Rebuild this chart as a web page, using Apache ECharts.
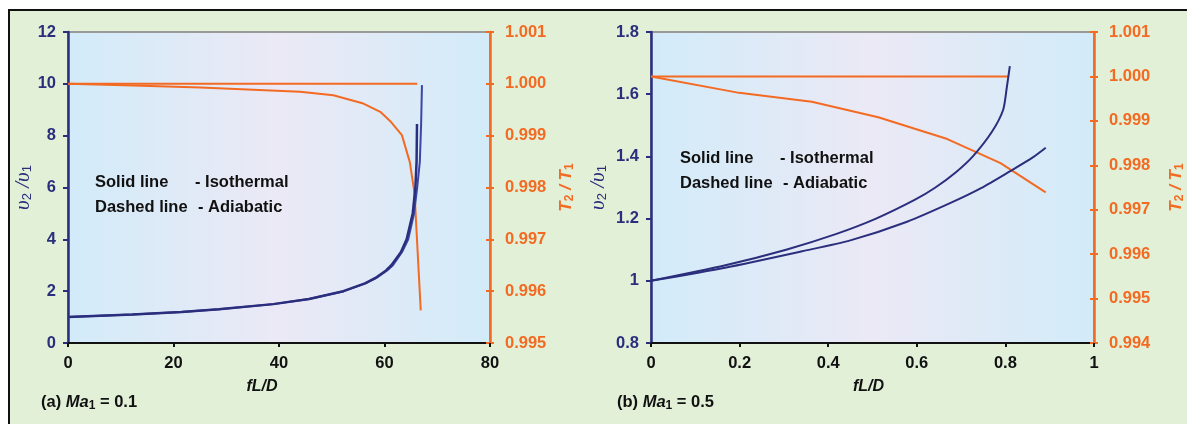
<!DOCTYPE html>
<html>
<head>
<meta charset="utf-8">
<script src="https://cdn.jsdelivr.net/npm/echarts@6/dist/echarts.min.js"></script>
<style>
  html, body { margin:0; padding:0; background:#ffffff; }
  #bg { position:absolute; left:8px; top:9px; width:1179px; height:415px; background:#e2f0d8; border-top:2px solid #111; border-left:2px solid #111; box-sizing:border-box; }
  #chart { position:absolute; left:0; top:0; width:1187px; height:424px; }
</style>
</head>
<body>
<div id="bg"></div>
<div id="chart"></div>
<script>
// ---- (a) Ma1 = 0.1 ----
const a_isoV_x  = [0, 12.2, 21.5, 28.6, 38.9, 45.7, 52.2, 56.3, 58.2, 60.3, 61.3, 63.1, 64.2, 65.35, 65.86, 66.08, 66.16];
const a_isoV_y  = [1, 1.1, 1.2, 1.3, 1.5, 1.7, 2, 2.3, 2.5, 2.8, 3, 3.5, 4, 5, 6, 7, 8.45];
const a_adiV_x  = [0, 12.2, 21.5, 28.6, 38.9, 45.7, 52.3, 56.4, 58.4, 60.5, 61.6, 63.3, 64.5, 65.6, 66.2, 66.7, 66.95, 67.1];
const a_adiV_y  = [1, 1.1, 1.2, 1.3, 1.5, 1.7, 2, 2.3, 2.5, 2.8, 3, 3.5, 4, 5, 6, 7, 8.5, 9.95];
const a_isoT_x  = [0, 66.2];
const a_isoT_y  = [1.0, 1.0];
const a_adiT_x  = [0, 12.4, 25.1, 44, 50.3, 56, 59.2, 61.1, 63.3, 64.8, 65.7, 66.87];
const a_adiT_y  = [1.0, 0.99997, 0.99993, 0.999845, 0.99978, 0.99962, 0.99946, 0.99928, 0.99901, 0.99849, 0.99788, 0.99563];
// ---- (b) Ma1 = 0.5 ----
const b_isoV_x  = [0, 0.168, 0.305, 0.417, 0.508, 0.595, 0.642, 0.689, 0.7265, 0.77, 0.795, 0.803, 0.81];
const b_isoV_y  = [1, 1.05, 1.1, 1.15, 1.2, 1.26, 1.3, 1.35, 1.4, 1.48, 1.55, 1.62, 1.69];
const b_adiV_x  = [0, 0.17, 0.341, 0.45, 0.578, 0.68, 0.745, 0.81, 0.861, 0.891];
const b_adiV_y  = [1, 1.043, 1.095, 1.13, 1.19, 1.253, 1.298, 1.352, 1.396, 1.428];
const b_isoT_x  = [0, 0.807];
const b_isoT_y  = [1.0, 1.0];
const b_adiT_x  = [0, 0.199, 0.363, 0.513, 0.669, 0.789, 0.891];
const b_adiT_y  = [1.0, 0.99963, 0.99943, 0.99908, 0.99859, 0.99805, 0.99739];

const NAVY = '#2b2e7c', ORANGE = '#f36a22', BLACK = '#111111';
const FONT = '"Liberation Sans", Arial, sans-serif';
const pairs = (xs, ys) => xs.map((x, i) => [x, ys[i]]);

const bgGrad = {type:'linear', x:0, y:0, x2:1, y2:0, colorStops:[
  {offset:0, color:'#d2ebf9'}, {offset:0.5, color:'#ebe9f5'}, {offset:1, color:'#d2ebf9'}]};

function xAx(gi, max, interval, padRight) {
  return {gridIndex:gi, type:'value', min:0, max:max, interval:interval,
    name:'fL/D', nameLocation:'middle', nameGap:36,
    nameTextStyle:{fontFamily:FONT, fontWeight:'bold', fontStyle:'italic', fontSize:16, color:BLACK, padding:[0,padRight,0,0]},
    axisLine:{show:true, onZero:false, lineStyle:{color:BLACK, width:2}},
    axisTick:{show:true, length:4, lineStyle:{color:BLACK, width:2}},
    axisLabel:{fontFamily:FONT, fontWeight:'bold', fontSize:16.5, color:BLACK, margin:12},
    splitLine:{show:false}};
}
function yLeft(gi, min, max, interval, gap) {
  return {gridIndex:gi, type:'value', position:'left', min:min, max:max, interval:interval,
    name:'{a|υ}{s|2}{a| /υ}{s|1}', nameLocation:'middle', nameGap:gap, nameRotate:90,
    nameTextStyle:{color:NAVY, rich:{
      a:{fontFamily:'"Liberation Serif", "DejaVu Serif", serif', fontStyle:'italic', fontSize:21, color:NAVY},
      s:{fontFamily:FONT, fontSize:13, color:NAVY, padding:[8,0,0,0]}}},
    axisLine:{show:true, onZero:false, lineStyle:{color:NAVY, width:2.5}},
    axisTick:{show:true, length:5, lineStyle:{color:NAVY, width:2}},
    axisLabel:{fontFamily:FONT, fontWeight:'bold', fontSize:16.5, color:NAVY, margin:12},
    splitLine:{show:false}};
}
function yRight(gi, min, max, gap) {
  return {gridIndex:gi, type:'value', position:'right', min:min, max:max, interval:0.001,
    name:'{a|T}{s|2}{a| / T}{s|1}', nameLocation:'middle', nameGap:gap, nameRotate:90,
    nameTextStyle:{color:ORANGE, rich:{
      a:{fontFamily:FONT, fontWeight:'bold', fontStyle:'italic', fontSize:17, color:ORANGE},
      s:{fontFamily:FONT, fontWeight:'bold', fontSize:12, color:ORANGE, padding:[7,0,0,0]}}},
    axisLine:{show:true, onZero:false, lineStyle:{color:ORANGE, width:2.5}},
    axisTick:{show:true, length:4, lineStyle:{color:ORANGE, width:2}},
    axisLabel:{fontFamily:FONT, fontWeight:'bold', fontSize:16.5, color:ORANGE, margin:15,
      formatter:v => v.toFixed(3)},
    splitLine:{show:false}};
}
function yRightInner(gi, min, max) {
  return {gridIndex:gi, type:'value', position:'right', min:min, max:max, interval:0.001,
    axisLine:{show:false, onZero:false}, axisLabel:{show:false}, splitLine:{show:false},
    axisTick:{show:true, inside:true, length:4, lineStyle:{color:ORANGE, width:2}}};
}
function line(name, xi, yi, data, color, w, smooth) {
  return {name:name, type:'line', xAxisIndex:xi, yAxisIndex:yi, data:data, showSymbol:false,
    symbol:'none', smooth:smooth || false,
    lineStyle:{color:color, width:w}, silent:true, animation:false, z:3};
}
function txt(x, y, parts) {
  return {type:'text', left:x, top:y, style:{text:parts, fontFamily:FONT, fontWeight:'bold', fontSize:16.5,
    fill:BLACK, rich:{
      b:{fontFamily:FONT, fontWeight:'bold', fontSize:16.5, fill:BLACK},
      i:{fontFamily:FONT, fontWeight:'bold', fontStyle:'italic', fontSize:16.5, fill:BLACK},
      s:{fontFamily:FONT, fontWeight:'bold', fontSize:12, fill:BLACK, padding:[6,0,0,0]}}}};
}

const chart = echarts.init(document.getElementById('chart'), null, {renderer:'canvas'});
chart.setOption({
  backgroundColor:'transparent',
  animation:false,
  grid:[
    {left:68, right:697, top:32, bottom:81, show:true, backgroundColor:bgGrad, borderColor:'#9a9a9a', borderWidth:2},
    {left:651, right:88, top:32, bottom:81, show:true, backgroundColor:bgGrad, borderColor:'#9a9a9a', borderWidth:2}
  ],
  xAxis:[xAx(0, 80, 20, 34), xAx(1, 1, 0.2, 8)],
  yAxis:[
    yLeft(0, 0, 12, 2, 30),
    yRight(0, 0.995, 1.001, 67),
    yLeft(1, 0.8, 1.8, 0.2, 42),
    yRight(1, 0.994, 1.001, 73),
    yRightInner(0, 0.995, 1.001),
    yRightInner(1, 0.994, 1.001)
  ],
  series:[
    line('a isoT', 0, 1, pairs(a_isoT_x, a_isoT_y), ORANGE, 2),
    line('a adiT', 0, 1, pairs(a_adiT_x, a_adiT_y), ORANGE, 2),
    line('a adiV', 0, 0, pairs(a_adiV_x, a_adiV_y), '#3a47a6', 2),
    line('a isoV', 0, 0, pairs(a_isoV_x, a_isoV_y), NAVY, 2.5),
    line('b isoT', 1, 3, pairs(b_isoT_x, b_isoT_y), ORANGE, 2),
    line('b adiT', 1, 3, pairs(b_adiT_x, b_adiT_y), ORANGE, 2),
    line('b isoV', 1, 2, pairs(b_isoV_x, b_isoV_y), NAVY, 2, 0.25),
    line('b adiV', 1, 2, pairs(b_adiV_x, b_adiV_y), NAVY, 2, 0.25)
  ],
  graphic:[
    txt(95, 174, 'Solid line'), txt(195, 174, '- Isothermal'),
    txt(95, 199, 'Dashed line'), txt(198, 199, '- Adiabatic'),
    txt(680, 150, 'Solid line'), txt(780, 150, '- Isothermal'),
    txt(680, 175, 'Dashed line'), txt(783, 175, '- Adiabatic'),
    txt(41, 394, '{b|(a) }{i|Ma}{s|1}{b| = 0.1}'),
    txt(617, 394, '{b|(b) }{i|Ma}{s|1}{b| = 0.5}')
  ]
});
</script>
</body>
</html>
